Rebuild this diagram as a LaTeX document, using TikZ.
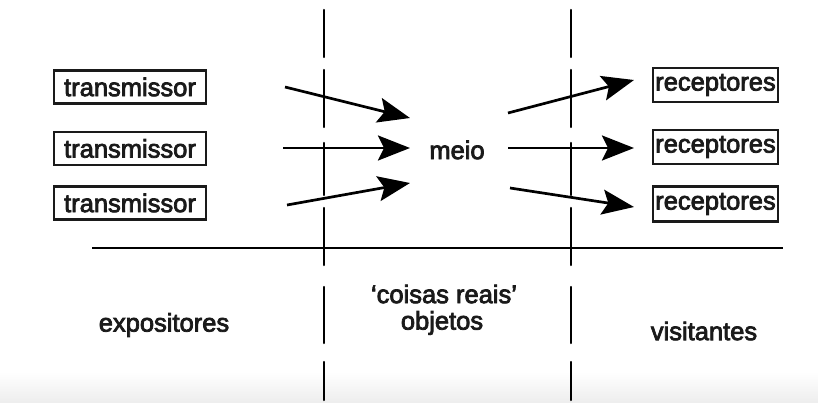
\documentclass[tikz,border=0pt]{standalone}
\usepackage{fontspec}
\setmainfont[FakeBold=3]{Liberation Sans}
\usetikzlibrary{arrows.meta}
\definecolor{ink}{HTML}{1A1A1A}
\tikzset{
  box/.style={draw=ink, line width=2.2pt, inner sep=0pt, minimum height=33pt, text=ink, font=\fontsize{25.5pt}{28pt}\selectfont},
  lbl/.style={inner sep=0pt, text=ink, font=\fontsize{25.5pt}{28pt}\selectfont, align=center},
  arr/.style={line width=2.7pt, draw=black, -{Stealth[length=32pt,width=25pt,inset=6pt]}},
  sep/.style={line width=2.5pt, draw=black, line cap=round},
}
\begin{document}
\begin{tikzpicture}[x=1pt,y=-1pt]
\useasboundingbox (0,0) rectangle (818,403);
\fill[white] (0,0) rectangle (818,403);
\shade[top color=white, bottom color=black!7] (0,372) rectangle (818,403);

% dashed separators
\foreach \xx in {324,571}{
  \foreach \ya/\yb in {10/57,70/127,143/195,208/265,287/343,362/400}{
    \draw[sep] (\xx,\ya) -- (\xx,\yb);
  }
}
% horizontal line
\coordinate (hl) at (92,248);
\coordinate (hr) at (783,248);
\draw[line width=2.5pt] (hl) -- (hr);

% transmitters
\node[box, minimum width=152pt] (t1) at (130,87) {transmissor};
\node[box, minimum width=152pt] (t2) at (130,148.5) {transmissor};
\node[box, minimum width=152pt] (t3) at (130,203) {transmissor};

% receivers
\node[box, minimum width=125pt, minimum height=34pt] (r1) at (715.5,85) {receptores};
\node[box, minimum width=125pt, minimum height=34pt] (r2) at (715.5,147) {receptores};
\node[box, minimum width=125pt, minimum height=35pt] (r3) at (715.5,204) {receptores};

% medium
\node[lbl] (meio) at (457,150) {meio};

% arrow end points
\coordinate (a1s) at (285,87);  \coordinate (a1e) at (410,118);
\coordinate (a2s) at (283,148); \coordinate (a2e) at (410,148);
\coordinate (a3s) at (287,205); \coordinate (a3e) at (410,183);
\coordinate (b1s) at (508,113); \coordinate (b1e) at (634,80);
\coordinate (b2s) at (508,148); \coordinate (b2e) at (634,148);
\coordinate (b3s) at (510,188); \coordinate (b3e) at (634,207);
\draw[arr] (a1s) -- (a1e);
\draw[arr] (a2s) -- (a2e);
\draw[arr] (a3s) -- (a3e);
\draw[arr] (b1s) -- (b1e);
\draw[arr] (b2s) -- (b2e);
\draw[arr] (b3s) -- (b3e);

% bottom labels
\node[lbl] (expo) at (164,325) {expositores};
\node[lbl] (cois) at (444,294) {‘coisas reais’};
\node[lbl] (obj) at (442,323) {objetos};
\node[lbl] (visi) at (704,331) {visitantes};
\end{tikzpicture}
\end{document}
